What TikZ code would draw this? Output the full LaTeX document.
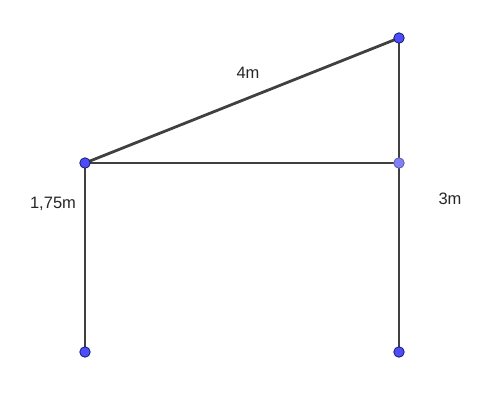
\documentclass[tikz,border=0pt]{standalone}
\usepackage{fontspec}
\setmainfont{Liberation Sans}
\definecolor{seg}{HTML}{404040}
\definecolor{pt}{HTML}{4D4DFF}
\definecolor{ptl}{HTML}{7F7FFF}
\definecolor{ptd}{HTML}{1A1A66}
\tikzset{
  seg/.style={draw=seg, line width=2.8pt},
  dot/.style={circle, fill=pt, draw=ptd, line width=0.8pt, minimum size=10.5pt, inner sep=0pt},
  ldot/.style={dot, fill=ptl, draw=ptd!70},
  lbl/.style={font=\fontsize{16.5}{19}\selectfont, text=black!85}
}
\begin{document}
\begin{tikzpicture}[x=1pt,y=-1pt]
\useasboundingbox (0,0) rectangle (492,400);
\coordinate (A) at (85,163);
\coordinate (B) at (399,38);
\coordinate (C) at (399,163);
\coordinate (D) at (85,352);
\coordinate (E) at (399,352);
\draw[seg] (A) -- (B);
\draw[seg] (A) -- (C);
\draw[seg] (B) -- (C);
\draw[seg] (A) -- (D);
\draw[seg] (C) -- (E);
\node[dot] (pA) at (A) {};
\node[dot] (pB) at (B) {};
\node[ldot] (pC) at (C) {};
\node[dot] (pD) at (D) {};
\node[dot] (pE) at (E) {};
\node[lbl] (l1) at (248,73) {4m};
\node[lbl] (l2) at (53,204) {1,75m};
\node[lbl] (l3) at (450,199) {3m};
\end{tikzpicture}
\end{document}
